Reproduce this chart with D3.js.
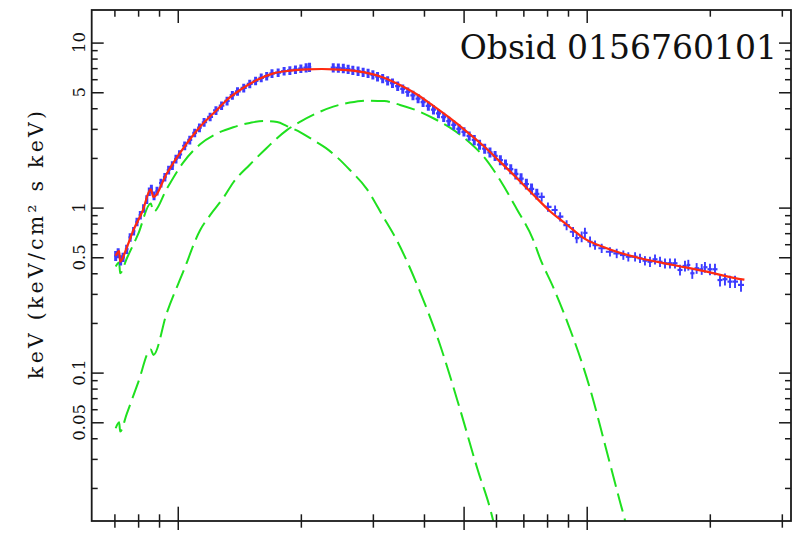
<!DOCTYPE html>
<html>
<head>
<meta charset="utf-8">
<script src="https://cdn.jsdelivr.net/npm/d3@7/dist/d3.min.js"></script>
<style>
  html, body { margin: 0; padding: 0; background: #ffffff; }
  svg { display: block; }
</style>
</head>
<body>
<svg id="chart" width="798" height="540"></svg>
<script>
// ---- Unfolded spectrum, E^2 f(E) in keV (keV/cm^2 s keV), energies in keV ----

// Total model (solid red)
const modelE = [0.705, 0.719, 0.723, 0.75, 0.779, 0.82, 0.859, 0.872, 0.94, 1.032, 1.134, 1.246, 1.318, 1.42, 1.561, 1.713, 1.882, 2.067, 2.25, 2.40, 2.638, 2.898, 3.182, 3.495, 3.84, 4.217, 4.632, 5.088, 5.587, 6.138, 6.744, 7.404, 8.133, 8.933, 9.811, 11.19, 13.5, 16.27, 19.65, 23.72, 24.3];
const modelV = [0.51, 0.545, 0.47, 0.57, 0.73, 0.95, 1.29, 1.16, 1.61, 2.29, 3.09, 3.90, 4.49, 5.16, 5.93, 6.51, 6.76, 6.89, 6.92, 6.89, 6.78, 6.55, 6.15, 5.53, 4.86, 4.13, 3.48, 2.89, 2.37, 1.90, 1.51, 1.196, 0.951, 0.790, 0.656, 0.567, 0.493, 0.449, 0.409, 0.369, 0.366];

// Soft thermal component (green dashed)
const comp1E = [0.705, 0.719, 0.723, 0.75, 0.80, 0.859, 0.872, 0.94, 1.032, 1.134, 1.25, 1.367, 1.50, 1.62, 1.75, 1.848, 2.0, 2.143, 2.30, 2.447, 2.636, 2.898, 3.18, 3.43, 3.91, 4.38, 4.90, 5.42, 5.80, 6.2];
const comp1V = [0.44, 0.465, 0.40, 0.49, 0.69, 1.06, 0.944, 1.30, 1.88, 2.42, 2.82, 3.07, 3.26, 3.35, 3.30, 3.12, 2.85, 2.57, 2.30, 2.03, 1.69, 1.30, 0.88, 0.636, 0.31, 0.147, 0.060, 0.0255, 0.0151, 0.0075];

// Harder thermal component (green dashed)
const comp2E = [0.705, 0.719, 0.723, 0.75, 0.80, 0.859, 0.872, 0.94, 1.032, 1.134, 1.20, 1.30, 1.367, 1.50, 1.65, 1.848, 2.0, 2.186, 2.40, 2.636, 2.898, 3.2, 3.495, 3.84, 4.217, 4.632, 5.088, 5.587, 6.138, 6.744, 7.404, 7.69, 8.27, 8.93, 10.21, 11.09, 12.07, 12.4, 13.0];
const comp2V = [0.046, 0.050, 0.044, 0.056, 0.087, 0.138, 0.128, 0.23, 0.41, 0.73, 0.90, 1.17, 1.42, 1.82, 2.30, 2.95, 3.33, 3.73, 4.09, 4.33, 4.45, 4.42, 4.19, 3.88, 3.48, 3.05, 2.57, 2.05, 1.47, 0.98, 0.636, 0.493, 0.332, 0.208, 0.0785, 0.0364, 0.0164, 0.0128, 0.0075];

// Data (blue crosses): soft band below the 2.1-2.4 keV gap
const lowE = [0.705, 0.715, 0.725, 0.735, 0.75, 0.765, 0.78, 0.795, 0.81, 0.825, 0.84, 0.852, 0.862, 0.875, 0.89, 0.91, 0.93, 0.95, 0.97, 0.99, 1.01, 1.04, 1.07, 1.10, 1.13, 1.16, 1.20, 1.24, 1.28, 1.32, 1.36, 1.40, 1.45, 1.50, 1.55, 1.60, 1.65, 1.70, 1.76, 1.82, 1.88, 1.94, 2.00, 2.06, 2.10];
const lowV = [0.51, 0.53, 0.48, 0.50, 0.56, 0.66, 0.72, 0.82, 0.90, 0.99, 1.12, 1.25, 1.30, 1.18, 1.26, 1.41, 1.53, 1.69, 1.80, 1.97, 2.10, 2.37, 2.57, 2.84, 3.05, 3.29, 3.55, 3.88, 4.15, 4.43, 4.80, 5.06, 5.31, 5.62, 5.86, 6.12, 6.26, 6.50, 6.58, 6.72, 6.78, 6.86, 6.95, 7.05, 7.10];
const lowErr = [0.07, 0.07, 0.07, 0.065, 0.065, 0.06, 0.06, 0.06, 0.06, 0.06, 0.06, 0.06, 0.06, 0.06, 0.06, 0.06, 0.06, 0.06, 0.06, 0.06, 0.06, 0.06, 0.06, 0.06, 0.06, 0.06, 0.06, 0.06, 0.06, 0.06, 0.06, 0.06, 0.06, 0.06, 0.06, 0.06, 0.06, 0.06, 0.06, 0.06, 0.06, 0.06, 0.06, 0.065, 0.065];

// Data: band above the gap
const midE = [2.40, 2.47, 2.54, 2.61, 2.68, 2.76, 2.84, 2.92, 3.00, 3.08, 3.17, 3.26, 3.35, 3.45, 3.55, 3.65, 3.76, 3.87, 3.98, 4.10, 4.22, 4.34, 4.47, 4.60, 4.73, 4.87, 5.01, 5.16, 5.31, 5.47, 5.63, 5.80, 5.97, 6.15, 6.33, 6.52, 6.71, 6.91, 7.12, 7.33, 7.55];
const midV = [7.05, 7.02, 6.98, 6.90, 6.80, 6.72, 6.62, 6.52, 6.38, 6.22, 6.06, 5.88, 5.68, 5.45, 5.24, 5.02, 4.79, 4.58, 4.36, 4.13, 3.92, 3.72, 3.53, 3.34, 3.17, 3.00, 2.88, 2.72, 2.57, 2.41, 2.28, 2.16, 2.06, 1.94, 1.83, 1.71, 1.60, 1.50, 1.39, 1.30, 1.21];
const midErr = [0.065, 0.065, 0.065, 0.065, 0.065, 0.065, 0.065, 0.065, 0.065, 0.065, 0.065, 0.065, 0.065, 0.065, 0.065, 0.065, 0.065, 0.065, 0.065, 0.065, 0.065, 0.065, 0.065, 0.065, 0.065, 0.065, 0.065, 0.065, 0.07, 0.07, 0.07, 0.07, 0.07, 0.07, 0.07, 0.07, 0.075, 0.075, 0.075, 0.075, 0.075];

// Data: hard tail
const highE = [7.76, 8.04, 8.37, 8.61, 8.93, 9.26, 9.45, 9.72, 9.90, 10.19, 10.48, 10.88, 11.40, 11.84, 12.29, 12.64, 13.13, 13.50, 13.88, 14.28, 14.69, 15.11, 15.54, 15.98, 16.44, 16.91, 17.39, 17.72, 18.12, 18.57, 19.11, 19.46, 20.02, 20.59, 21.18, 21.78, 22.41, 23.05, 23.84];
const highV = [1.16, 1.01, 0.967, 0.881, 0.784, 0.714, 0.654, 0.666, 0.702, 0.621, 0.593, 0.567, 0.540, 0.528, 0.516, 0.504, 0.504, 0.493, 0.477, 0.470, 0.486, 0.470, 0.460, 0.460, 0.460, 0.419, 0.443, 0.449, 0.400, 0.429, 0.423, 0.435, 0.423, 0.423, 0.364, 0.368, 0.356, 0.356, 0.340];
const highErr = [0.065, 0.065, 0.065, 0.065, 0.07, 0.07, 0.07, 0.075, 0.075, 0.075, 0.065, 0.065, 0.065, 0.065, 0.065, 0.065, 0.065, 0.065, 0.065, 0.07, 0.07, 0.07, 0.07, 0.07, 0.07, 0.075, 0.075, 0.075, 0.075, 0.075, 0.075, 0.075, 0.08, 0.08, 0.085, 0.085, 0.085, 0.085, 0.09];

// Axis ticks
const yMajorTicks = [10, 5, 1, 0.5, 0.1, 0.05];
const yTickLabels = ["10", "5", "1", "0.5", "0.1", "0.05"];
const yMinorTicks = [0.02, 0.03, 0.04, 0.06, 0.07, 0.08, 0.09, 0.2, 0.3, 0.4, 0.6, 0.7, 0.8, 0.9, 2, 3, 4, 6, 7, 8, 9];
const xMajorTicks = [1, 5, 10];
const xMinorTicks = [0.7, 0.8, 0.9, 2, 3, 4, 6, 7, 8, 9, 20, 30];

const titleText = "Obsid 0156760101";
const yAxisTitle = "keV (keV/cm\u00B2 s keV)";

// ---- Layout ----
const W = 798, H = 540;
const plot = { left: 91.7, right: 791, top: 10, bottom: 521 };

const x = d3.scaleLog().domain([0.616, 31.59]).range([plot.left, plot.right]);
const y = d3.scaleLog().domain([0.01261, 15.76]).range([plot.bottom, plot.top]);

const COL_DATA = "#3c3cff";
const COL_MODEL = "#ff2a10";
const COL_COMP = "#1fe01f";
const COL_AXIS = "#1a1a1a";

const svg = d3.select("#chart");
svg.append("rect").attr("width", W).attr("height", H).attr("fill", "#ffffff");

svg.append("defs").append("clipPath").attr("id", "plot-clip")
  .append("rect")
  .attr("x", plot.left).attr("y", plot.top)
  .attr("width", plot.right - plot.left).attr("height", plot.bottom - plot.top);

const area = svg.append("g").attr("clip-path", "url(#plot-clip)");

const line = d3.line()
  .x(d => x(d[0]))
  .y(d => y(d[1]))
  .curve(d3.curveMonotoneX);

// Model components
[[comp1E, comp1V], [comp2E, comp2V]].forEach(([E, V]) => {
  area.append("path")
    .datum(E.map((e, i) => [e, V[i]]))
    .attr("d", line)
    .attr("fill", "none")
    .attr("stroke", COL_COMP)
    .attr("stroke-width", 2)
    .attr("stroke-dasharray", "19,7");
});

// Data crosses: horizontal bar spans the bin, vertical bar the error
function binEdges(E) {
  return E.map((e, i) => {
    const lo = i > 0 ? Math.sqrt(E[i - 1] * e) : e * e / Math.sqrt(e * E[i + 1]);
    const hi = i < E.length - 1 ? Math.sqrt(E[i + 1] * e) : e * e / Math.sqrt(e * E[i - 1]);
    return [lo, hi];
  });
}

const dataG = area.append("g").attr("stroke", COL_DATA).attr("fill", "none");
[[lowE, lowV, lowErr, 3.0], [midE, midV, midErr, 3.0], [highE, highV, highErr, 1.9]].forEach(([E, V, R, w]) => {
  const edges = binEdges(E);
  const pts = E.map((e, i) => ({ e, v: V[i], r: R[i], lo: edges[i][0], hi: edges[i][1] }));
  const g = dataG.append("g");
  g.selectAll("line.v").data(pts).join("line").attr("class", "v")
    .attr("x1", d => x(d.e)).attr("x2", d => x(d.e))
    .attr("y1", d => y(d.v * (1 + d.r))).attr("y2", d => y(d.v * (1 - d.r)))
    .attr("stroke-width", w);
  g.selectAll("line.h").data(pts).join("line").attr("class", "h")
    .attr("x1", d => x(d.lo)).attr("x2", d => x(d.hi))
    .attr("y1", d => y(d.v)).attr("y2", d => y(d.v))
    .attr("stroke-width", 2.2);
});

// Total model on top
area.append("path")
  .datum(modelE.map((e, i) => [e, modelV[i]]))
  .attr("d", line)
  .attr("fill", "none")
  .attr("stroke", COL_MODEL)
  .attr("stroke-width", 2.2);

// ---- Axes: ticks on all four sides ----
function styleAxis(g) {
  g.select(".domain").remove();
  g.selectAll("line").attr("stroke", COL_AXIS).attr("stroke-width", 1.5);
  g.selectAll("text").remove();
}

// bottom: ticks cross the axis line
svg.append("g").attr("transform", `translate(0,${plot.bottom})`)
  .call(d3.axisBottom(x).tickValues(xMajorTicks).tickSize(-14.3).tickFormat("")).call(styleAxis);
svg.append("g").attr("transform", `translate(0,${plot.bottom})`)
  .call(d3.axisBottom(x).tickValues(xMajorTicks).tickSize(9).tickFormat("")).call(styleAxis);
svg.append("g").attr("transform", `translate(0,${plot.bottom})`)
  .call(d3.axisBottom(x).tickValues(xMinorTicks).tickSize(-6.7).tickFormat("")).call(styleAxis);
svg.append("g").attr("transform", `translate(0,${plot.bottom})`)
  .call(d3.axisBottom(x).tickValues(xMinorTicks).tickSize(6.7).tickFormat("")).call(styleAxis);

// top
svg.append("g").attr("transform", `translate(0,${plot.top})`)
  .call(d3.axisTop(x).tickValues(xMajorTicks).tickSize(-13).tickFormat("")).call(styleAxis);
svg.append("g").attr("transform", `translate(0,${plot.top})`)
  .call(d3.axisTop(x).tickValues(xMinorTicks).tickSize(-6.7).tickFormat("")).call(styleAxis);

// left
svg.append("g").attr("transform", `translate(${plot.left},0)`)
  .call(d3.axisLeft(y).tickValues(yMajorTicks).tickSize(-12).tickFormat("")).call(styleAxis);
svg.append("g").attr("transform", `translate(${plot.left},0)`)
  .call(d3.axisLeft(y).tickValues(yMinorTicks).tickSize(-6).tickFormat("")).call(styleAxis);

// right
svg.append("g").attr("transform", `translate(${plot.right},0)`)
  .call(d3.axisRight(y).tickValues(yMajorTicks).tickSize(-12).tickFormat("")).call(styleAxis);
svg.append("g").attr("transform", `translate(${plot.right},0)`)
  .call(d3.axisRight(y).tickValues(yMinorTicks).tickSize(-6).tickFormat("")).call(styleAxis);

// frame
svg.append("rect")
  .attr("x", plot.left).attr("y", plot.top)
  .attr("width", plot.right - plot.left).attr("height", plot.bottom - plot.top)
  .attr("fill", "none").attr("stroke", COL_AXIS).attr("stroke-width", 1.8);

// y tick labels, written vertically
svg.append("g")
  .selectAll("text")
  .data(yMajorTicks)
  .join("text")
  .attr("transform", (d) => `translate(84.5,${y(d)}) rotate(-90)`)
  .attr("text-anchor", "middle")
  .attr("font-family", "'DejaVu Serif', serif")
  .attr("font-size", 16.5)
  .attr("fill", "#111111")
  .text((d, i) => yTickLabels[i]);

// y axis title
svg.append("text")
  .attr("transform", `translate(43,245) rotate(-90)`)
  .attr("text-anchor", "middle")
  .attr("font-family", "'DejaVu Serif', serif")
  .attr("font-size", 20.5)
  .attr("textLength", 268)
  .attr("lengthAdjust", "spacing")
  .attr("fill", "#111111")
  .text(yAxisTitle);

// title
svg.append("text")
  .attr("x", 777).attr("y", 59)
  .attr("text-anchor", "end")
  .attr("font-family", "'DejaVu Serif', serif")
  .attr("font-size", 33)
  .attr("fill", "#111111")
  .text(titleText);
</script>
</body>
</html>
